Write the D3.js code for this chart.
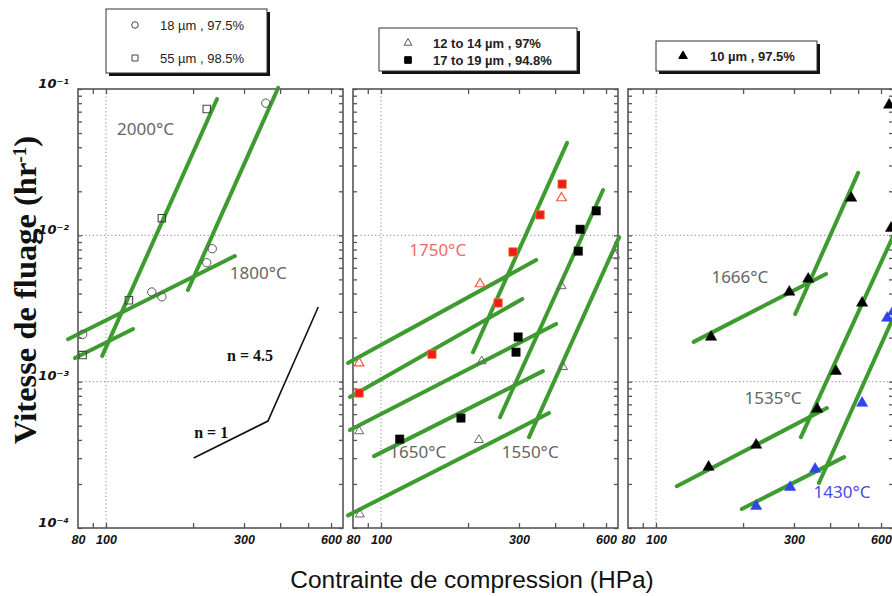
<!DOCTYPE html>
<html>
<head>
<meta charset="utf-8">
<script src="https://cdn.jsdelivr.net/npm/d3@7"></script>
<style>
  body { margin: 0; background: #fff; }
  svg { display: block; }
</style>
</head>
<body>
<div id="container"></div>
<script>
/* CONSTANTS AND GLOBALS */
const width = 892, height = 596;
const top_ = 89, bottom = 528, panelW = 265;
const panelLeft = [78, 353, 628];

/* DATA (stress HPa, creep rate hr-1) */
const xTicks = [80, 100, 300, 600];
const yTicks = [1e-4, 1e-3, 1e-2, 1e-1];
const gridX = [100];
const gridY = [1e-3, 1e-2];

// panel 1
const circles18 = [[357, 0.080], [233, 0.0081], [223, 0.0065], [144, 0.0041], [156, 0.0038], [83, 0.0021]];
const squares55 = [[223, 0.073], [156, 0.0131], [120, 0.0036], [83, 0.00152]];
const fits1 = [
  [[97, 0.0015], [242, 0.0855]],
  [[192, 0.00423], [394, 0.102]],
  [[73.9, 0.00195], [279, 0.00722]],
  [[78.1, 0.00145], [124, 0.00229]]
];
const slopeGuide = [[201, 0.000301], [363, 0.000538], [542, 0.00324]];
const labels1 = [
  {t: "2000°C", x: 137, y: 0.0533, c: "#666"},
  {t: "1800°C", x: 336, y: 0.0055, c: "#666"}
];
const guideLabels = [
  {t: "n = 4.5", x: 315, y: 0.0015},
  {t: "n = 1", x: 231, y: 0.000453}
];

// panel 2
const redSquares = [[423, 0.0224], [355, 0.0138], [286, 0.0077], [254, 0.00345], [150, 0.00154], [84, 0.000836]];
const redTriangles = [[421, 0.018], [220, 0.00465], [84, 0.00134]];
const blackSquares = [[555, 0.0147], [488, 0.011], [481, 0.0078], [298, 0.00202], [293, 0.00159], [189, 0.000564], [116, 0.000405]];
const grayTriangles = [[421, 0.0045], [223, 0.00138], [426, 0.00126], [645, 0.0073], [84, 0.000459], [218, 0.0004], [84.5, 0.000124]];
const fits2 = [
  [[76.9, 0.00134], [344, 0.00678]],
  [[78.1, 0.000785], [308, 0.00367]],
  [[78.1, 0.000467], [403, 0.00248]],
  [[94.6, 0.00031], [363, 0.00118]],
  [[76.9, 0.000122], [381, 0.00061]],
  [[208, 0.00159], [440, 0.0428]],
  [[258, 0.000573], [586, 0.0204]],
  [[325, 0.000418], [666, 0.00973]]
];
const labels2 = [
  {t: "1750°C", x: 157, y: 0.0079, c: "#f06a6a"},
  {t: "1650°C", x: 134, y: 0.00033, c: "#666"},
  {t: "1550°C", x: 328, y: 0.00033, c: "#666"}
];

// panel 3
const blackTriangles = [[473, 0.018], [336, 0.00503], [289, 0.0041], [155, 0.00202], [516, 0.00345], [419, 0.00118], [650, 0.0112], [640, 0.0778], [361, 0.00065], [222, 0.000369], [152, 0.000261]];
const blueTriangles = [[516, 0.000714], [355, 0.000253], [291, 0.00019], [222, 0.000141], [630, 0.00272], [660, 0.003]];
const fits3 = [
  [[135, 0.00187], [387, 0.00544]],
  [[303, 0.0029], [500, 0.0267]],
  [[317, 0.000418], [661, 0.00989]],
  [[118, 0.000193], [390, 0.00066]],
  [[366, 0.000203], [680, 0.0031]],
  [[198, 0.000135], [447, 0.000305]]
];
const labels3 = [
  {t: "1666°C", x: 195, y: 0.0052, c: "#666"},
  {t: "1535°C", x: 254, y: 0.00077, c: "#666"},
  {t: "1430°C", x: 440, y: 0.000176, c: "#4a4ae6"}
];

/* SVG */
const svg = d3.select("#container").append("svg")
  .attr("width", width).attr("height", height)
  .style("font-family", "'Liberation Sans', Arial, sans-serif");

const yScale = d3.scaleLog().domain([1e-4, 1e-1]).range([bottom, top_]);
const green = "#3d9b2f";

function drawPanel(i) {
  const left = panelLeft[i];
  const x = d3.scaleLog().domain([80, 660]).range([left, left + panelW]);
  const g = svg.append("g");

  // grid
  g.selectAll(".gx").data(gridX).join("line")
    .attr("x1", d => x(d)).attr("x2", d => x(d))
    .attr("y1", top_).attr("y2", bottom)
    .attr("stroke", "#888").attr("stroke-dasharray", "1.2,2.5");
  g.selectAll(".gy").data(gridY).join("line")
    .attr("x1", left).attr("x2", left + panelW)
    .attr("y1", d => yScale(d)).attr("y2", d => yScale(d))
    .attr("stroke", "#888").attr("stroke-dasharray", "1.2,2.5");

  // inward ticks
  const xt = x.ticks().filter(d => d > 80 && d < 660);
  const yt = yScale.ticks();
  const tickStyle = sel => {
    sel.select(".domain").remove();
    sel.selectAll("line").attr("stroke", "#555").attr("stroke-width", 1.3);
  };
  g.append("g").attr("transform", `translate(0,${bottom})`)
    .call(d3.axisBottom(x).tickValues(xt).tickSize(-5).tickFormat("")).call(tickStyle);
  g.append("g").attr("transform", `translate(0,${top_})`)
    .call(d3.axisTop(x).tickValues(xt).tickSize(-5).tickFormat("")).call(tickStyle);
  g.append("g").attr("transform", `translate(${left},0)`)
    .call(d3.axisLeft(yScale).tickValues(yt).tickSize(-4).tickFormat("")).call(tickStyle);
  g.append("g").attr("transform", `translate(${left + panelW},0)`)
    .call(d3.axisRight(yScale).tickValues(yt).tickSize(-4).tickFormat("")).call(tickStyle);

  // frame
  g.append("rect").attr("x", left).attr("y", top_)
    .attr("width", panelW).attr("height", bottom - top_)
    .attr("fill", "none").attr("stroke", "#555").attr("stroke-width", 1.6);

  // x tick labels
  const xl = g.append("g").attr("transform", `translate(0,${bottom})`)
    .call(d3.axisBottom(x).tickValues(xTicks).tickSize(0).tickPadding(7).tickFormat(d3.format("d")));
  xl.select(".domain").remove();
  xl.selectAll("text").attr("font-size", 12.5).attr("font-weight", "bold")
    .attr("font-style", "italic").attr("fill", "#111")
    .attr("font-family", "'Liberation Sans', Arial, sans-serif");

  return {x, g};
}

const p1 = drawPanel(0), p2 = drawPanel(1), p3 = drawPanel(2);

// y tick labels (panel 1 only)
const sup = {"-1": "⁻¹", "-2": "⁻²", "-3": "⁻³", "-4": "⁻⁴"};
const yl = svg.append("g").attr("transform", `translate(${panelLeft[0]},0)`)
  .call(d3.axisLeft(yScale).tickValues(yTicks).tickSize(0).tickPadding(9)
    .tickFormat(d => "10" + sup[String(Math.round(Math.log10(d)))]));
yl.select(".domain").remove();
yl.selectAll("text").attr("font-size", 13).attr("font-weight", "bold")
  .attr("font-style", "italic").attr("fill", "#111").attr("dy", "-0.15em")
  .attr("font-family", "'DejaVu Sans', 'Liberation Sans', sans-serif");

/* MARKS */
function fitLines(p, fits) {
  p.g.selectAll(".fit").data(fits).join("line").attr("class", "fit")
    .attr("x1", d => p.x(d[0][0])).attr("y1", d => yScale(d[0][1]))
    .attr("x2", d => p.x(d[1][0])).attr("y2", d => yScale(d[1][1]))
    .attr("stroke", green).attr("stroke-width", 4).attr("stroke-linecap", "round");
}

function symbols(p, data, type, size, fill, stroke, sw) {
  p.g.append("g").selectAll("path").data(data).join("path")
    .attr("transform", d => `translate(${p.x(d[0])},${yScale(d[1])})`)
    .attr("d", d3.symbol().type(type).size(size))
    .attr("fill", fill).attr("stroke", stroke).attr("stroke-width", sw);
}

function tempLabels(p, labels) {
  p.g.selectAll(".tl").data(labels).join("text").attr("class", "tl")
    .attr("x", d => p.x(d.x)).attr("y", d => yScale(d.y))
    .attr("dy", "0.35em").attr("text-anchor", "middle")
    .attr("font-size", 17).attr("fill", d => d.c)
    .attr("font-family", "'Noto Sans', 'DejaVu Sans', sans-serif")
    .text(d => d.t);
}

// panel 1
fitLines(p1, fits1);
symbols(p1, circles18, d3.symbolCircle, 55, "none", "#555", 1);
symbols(p1, squares55, d3.symbolSquare, 55, "none", "#444", 1.1);
p1.g.append("path").datum(slopeGuide)
  .attr("d", d3.line().x(d => p1.x(d[0])).y(d => yScale(d[1])))
  .attr("fill", "none").attr("stroke", "#111").attr("stroke-width", 1.6);
p1.g.selectAll(".gl").data(guideLabels).join("text").attr("class", "gl")
  .attr("x", d => p1.x(d.x)).attr("y", d => yScale(d.y))
  .attr("dy", "0.35em").attr("text-anchor", "middle")
  .attr("font-size", 16).attr("font-weight", "bold").attr("fill", "#111")
  .attr("font-family", "'Liberation Serif', 'DejaVu Serif', serif")
  .text(d => d.t);
tempLabels(p1, labels1);

// panel 2
fitLines(p2, fits2);
symbols(p2, redSquares, d3.symbolSquare, 70, "#ee1c1c", "#f08030", 0.8);
symbols(p2, redTriangles, d3.symbolTriangle, 40, "none", "#f05a3a", 1.2);
symbols(p2, blackSquares, d3.symbolSquare, 70, "#000", "#000", 0.5);
symbols(p2, grayTriangles, d3.symbolTriangle, 35, "none", "#666", 1);
tempLabels(p2, labels2);

// panel 3
fitLines(p3, fits3);
symbols(p3, blackTriangles, d3.symbolTriangle, 55, "#000", "#000", 0.5);
symbols(p3, blueTriangles, d3.symbolTriangle, 55, "#3344ee", "#3344ee", 0.5);
tempLabels(p3, labels3);

/* LEGENDS */
function legendBox(x0, y0, w, h) {
  svg.append("rect").attr("x", x0 + 3).attr("y", y0 + 3).attr("width", w).attr("height", h).attr("fill", "#111");
  svg.append("rect").attr("x", x0).attr("y", y0).attr("width", w).attr("height", h)
    .attr("fill", "#fff").attr("stroke", "#333").attr("stroke-width", 1);
}
function legendRow(sx, tx, y, type, size, fill, stroke, text, bold) {
  svg.append("path").attr("transform", `translate(${sx},${y})`)
    .attr("d", d3.symbol().type(type).size(size))
    .attr("fill", fill).attr("stroke", stroke).attr("stroke-width", 1);
  svg.append("text").attr("x", tx).attr("y", y).attr("dy", "0.35em")
    .attr("font-size", 13).attr("font-weight", bold ? "bold" : "normal")
    .attr("fill", "#222").text(text);
}

legendBox(106, 9, 161, 64);
legendRow(135, 160, 25, d3.symbolCircle, 34, "none", "#444", "18 µm , 97.5%", false);
legendRow(135, 160, 58, d3.symbolSquare, 36, "none", "#444", "55 µm , 98.5%", false);

legendBox(379, 28, 198, 43);
legendRow(408, 433, 43, d3.symbolTriangle, 26, "none", "#555", "12 to 14 µm , 97%", true);
legendRow(408, 433, 60, d3.symbolSquare, 44, "#000", "#000", "17 to 19 µm , 94.8%", true);

legendBox(656, 41, 161, 30);
legendRow(683, 710, 56, d3.symbolTriangle, 32, "#000", "#000", "10 µm , 97.5%", true);

/* AXIS TITLES */
svg.append("text")
  .attr("transform", "translate(36,290) rotate(-90)")
  .attr("text-anchor", "middle")
  .attr("font-family", "'Liberation Serif', 'DejaVu Serif', serif")
  .attr("font-weight", "bold").attr("font-size", 32.5).attr("fill", "#111")
  .call(t => {
    t.append("tspan").text("Vitesse de fluage  (hr");
    t.append("tspan").attr("baseline-shift", "super").attr("font-size", 19).text("-1");
    t.append("tspan").text(")");
  });

svg.append("text")
  .attr("x", 472).attr("y", 588)
  .attr("text-anchor", "middle")
  .attr("font-size", 24.5).attr("fill", "#111")
  .text("Contrainte de compression (HPa)");
</script>
</body>
</html>
